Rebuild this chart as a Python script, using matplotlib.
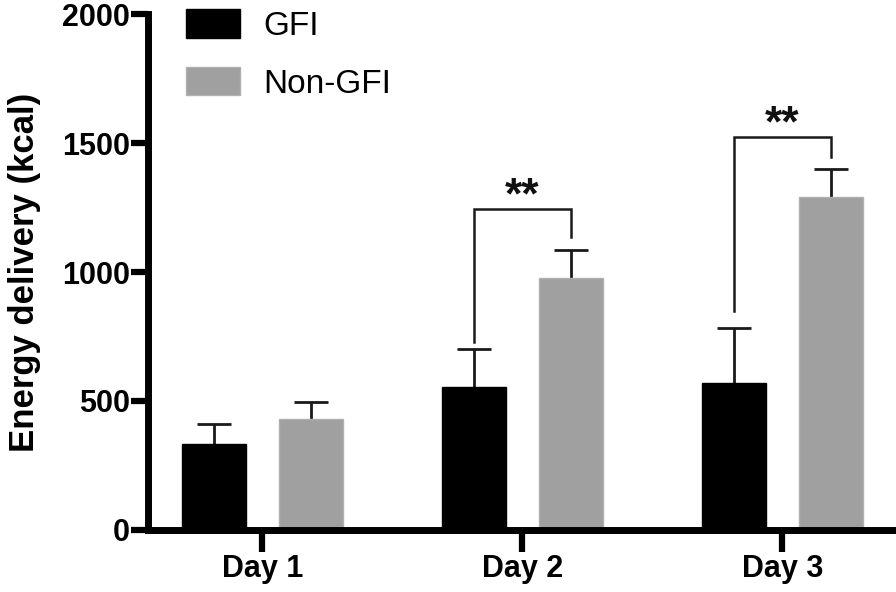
import numpy as np
import matplotlib
matplotlib.use('Agg')
import matplotlib.pyplot as plt

plt.rcParams['font.family'] = ['Liberation Sans', 'DejaVu Sans']

days = ['Day 1', 'Day 2', 'Day 3']
gfi_mean = [333, 553, 569]
gfi_sd = [78, 148, 215]
nongfi_mean = [430, 975, 1292]
nongfi_sd = [66, 110, 106]

# significance brackets (day index, top, left leg end, right leg end, label)
sig_day = [1, 2]
sig_top = [1245, 1525]
sig_left = [730, 849]
sig_right = [1135, 1447]
sig_text = ['**', '**']

gfi_color = 'black'
nongfi_color = '#a0a0a0'
line_color = '#1a1a1a'

x = np.arange(len(days))
width = 0.246
off = 0.187

fig = plt.figure(figsize=(8.96, 5.92), dpi=100)
ax = fig.add_axes([0.165, 0.105, 0.835, 0.871])

ax.bar(x - off, gfi_mean, width, color=gfi_color, edgecolor=gfi_color, label='GFI', zorder=2)
ax.bar(x + off, nongfi_mean, width, color=nongfi_color, edgecolor='#b0b0b0', label='Non-GFI', zorder=2)

# upper error bars only
for xs, m, sd in [(x - off, gfi_mean, gfi_sd), (x + off, nongfi_mean, nongfi_sd)]:
    eb = ax.errorbar(xs, m, yerr=[np.zeros(3), sd], fmt='none', ecolor=line_color,
                     elinewidth=2, capsize=12, capthick=2, zorder=1)
    eb[1][0].set_visible(False)

for i, d in enumerate(sig_day):
    xl = d - off
    xr = d + off
    ax.plot([xl, xl, xr, xr], [sig_left[i], sig_top[i], sig_top[i], sig_right[i]],
            color=line_color, lw=1.8, solid_joinstyle='miter', zorder=3)
    ax.annotate(sig_text[i], xy=(d, sig_top[i]), xytext=(0, 0), textcoords='offset points',
                ha='center', va='baseline', fontsize=32, fontweight='bold', color='#111111')

ax.set_xlim(-0.44, 2.437)
ax.set_ylim(0, 2000)
ax.set_yticks([0, 500, 1000, 1500, 2000])
ax.set_xticks(x)
ax.set_xticklabels(days)

for s in ['top', 'right']:
    ax.spines[s].set_visible(False)
for s in ['left', 'bottom']:
    ax.spines[s].set_linewidth(5)
    ax.spines[s].set_capstyle('projecting')

ax.tick_params(axis='y', length=12, width=4.5, pad=1, labelsize=22)
ax.tick_params(axis='x', length=16, width=4.5, pad=1.5, labelsize=22)
for lab in ax.get_xticklabels() + ax.get_yticklabels():
    lab.set_fontweight('bold')

ax.set_ylabel('Energy delivery (kcal)', fontsize=25, fontweight='bold', labelpad=15)

leg = fig.legend(loc='upper left', bbox_to_anchor=(0.208, 0.985), frameon=False,
                 fontsize=24, handlelength=1.6, handleheight=0.95, handletextpad=0.7,
                 labelspacing=0.75, borderpad=0, borderaxespad=0)

fig.savefig('out.png', dpi=100)
